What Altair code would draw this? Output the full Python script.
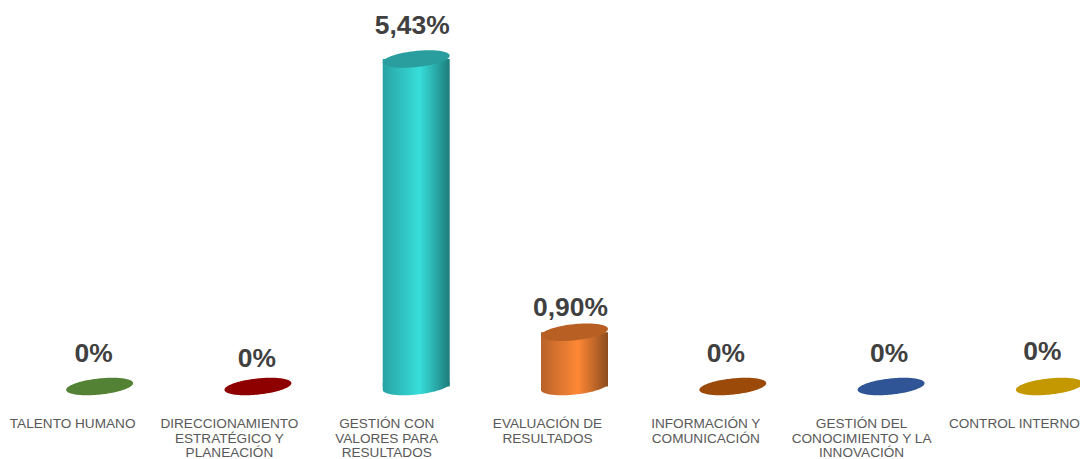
import math
import altair as alt
import pandas as pd

categories = ["TALENTO HUMANO", "DIRECCIONAMIENTO|ESTRATÉGICO Y|PLANEACIÓN",
              "GESTIÓN CON|VALORES PARA|RESULTADOS", "EVALUACIÓN DE|RESULTADOS",
              "INFORMACIÓN Y|COMUNICACIÓN", "GESTIÓN DEL|CONOCIMIENTO Y LA|INNOVACIÓN",
              "CONTROL INTERNO"]
values = [0, 0, 5.43, 0.90, 0, 0, 0]
value_labels = ["0%", "0%", "5,43%", "0,90%", "0%", "0%", "0%"]

top_colors = ["#548235", "#8E0000", "#2A9D9E", "#B86024", "#9C4A09", "#2F5597", "#C49800"]
side_stops = {
    "GESTIÓN CON|VALORES PARA|RESULTADOS": ["#27A3A3", "#37DEDB", "#1D7C7B"],
    "EVALUACIÓN DE|RESULTADOS": ["#B8622A", "#FF8835", "#8C4C1E"],
}
label_nudge = {0: (-6, -33), 1: (-1, -28), 2: (-4, -33.5), 3: (-4, -24), 4: (-7, -33), 5: (-2, -33), 6: (-7, -35)}

df = pd.DataFrame({"cat": categories, "val": values, "lab": value_labels})

TILT, MINOR = math.radians(6), 0.24


def ell(t):
    return (math.cos(t) * math.cos(TILT) + MINOR * math.sin(t) * math.sin(TILT),
            -math.cos(t) * math.sin(TILT) + MINOR * math.sin(t) * math.cos(TILT))


t_r = math.atan2(MINOR * math.sin(TILT), math.cos(TILT))
fmt = lambda pts: "M " + " L ".join(f"{x:.4f} {y:.4f}" for x, y in pts) + " Z"
ELLIPSE = fmt([ell(math.radians(d)) for d in range(0, 360, 3)])
CAP = fmt([ell(t_r + math.pi * k / 90) for k in range(91)]
          + [(ell(t_r + math.pi)[0], -0.12), (ell(t_r)[0], -0.12)])
SIZE = 67.3 ** 2

yscale = alt.Scale(domain=[0, 5.43], range=[378.5, 51], nice=False, zero=True)
xenc = alt.X("cat:N", sort=categories,
             scale=alt.Scale(domain=categories, range=[12.5, 1120.5], paddingInner=0, paddingOuter=0, round=False),
             axis=alt.Axis(title=None, domain=False, ticks=False, labelAngle=0,
                           labelOffset={"condition": [
                               {"test": "indexof(datum.value,'CONTROL')==0", "value": -35},
                               {"test": "indexof(datum.value,'GESTIÓN')==0", "value": -29.5},
                               {"test": "indexof(datum.value,'DIRECC')==0", "value": -28.5}],
                               "value": -27},
                           labelExpr="split(datum.label,'|')", labelFont="Liberation Sans",
                           labelFontSize=13.6, labelColor="#595959", labelLineHeight=14.7,
                           labelPadding=8.5, labelLimit=0, labelAlign="center", grid=False))
yenc = alt.Y("val:Q", scale=yscale, axis=None)

layers = []
for cat, stops in side_stops.items():
    grad = alt.Gradient(gradient="linear", x1=0, x2=1, y1=0, y2=0, stops=[
        alt.GradientStop(offset=0, color=stops[0]),
        alt.GradientStop(offset=0.55, color=stops[1]),
        alt.GradientStop(offset=1, color=stops[2])])
    sub = df[df.cat == cat]
    layers.append(alt.Chart(sub).transform_calculate(zero="0").mark_point(
        shape=CAP, filled=True, fill=grad, size=SIZE, opacity=1, strokeWidth=0)
        .encode(x=xenc, y=alt.Y("zero:Q", scale=yscale, axis=None)))
    layers.append(alt.Chart(sub).mark_bar(width=67, fill=grad).encode(x=xenc, y=yenc))

layers.append(alt.Chart(df).mark_point(shape=ELLIPSE, filled=True, size=SIZE, opacity=1, strokeWidth=0).encode(
    x=xenc, y=yenc,
    fill=alt.Fill("cat:N", scale=alt.Scale(domain=categories, range=top_colors), legend=None)))

for i, cat in enumerate(categories):
    dx, dy = label_nudge[i]
    layers.append(alt.Chart(df[df.cat == cat]).mark_text(
        font="Liberation Sans", fontWeight="bold", fontSize=26.4, color="#404040",
        dx=dx, dy=dy, baseline="middle", align="center").encode(x=xenc, y=yenc, text="lab:N"))

chart = alt.layer(*layers).properties(
    width=1072, height=400,
    padding={"left": 0, "top": 0, "right": 0, "bottom": 51},
    autosize=alt.AutoSizeParams(type="none"),
    background="white",
).configure_view(stroke=None)

chart.save("out.html", embed_options={"renderer": "svg", "actions": False})
